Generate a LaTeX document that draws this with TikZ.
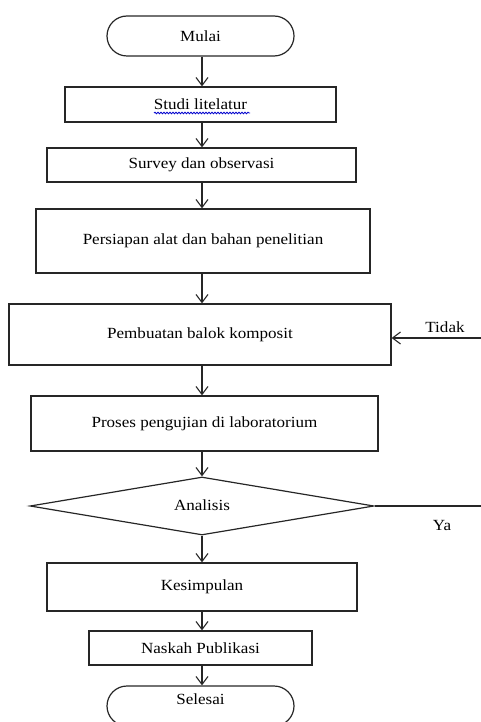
\documentclass[tikz,border=0pt]{standalone}
\usepackage{fontspec}
\setmainfont{Liberation Serif}[FakeStretch=1.1]
\usetikzlibrary{arrows.meta,shapes.geometric,decorations.pathmorphing}
\begin{document}
\begin{tikzpicture}[x=1pt,y=-1pt,
  every node/.style={font=\fontsize{15.5}{18}\selectfont, inner sep=0pt, line width=1.2pt, draw=black!85},
  box/.style={rectangle},
  term/.style={rectangle, rounded corners=20pt},
  dec/.style={diamond, aspect=6},
  lbl/.style={draw=none},
  arr/.style={line width=1.1pt, draw=black!85, -{Straight Barb[length=8pt,width=12pt,line width=1.1pt]}},
  plain/.style={line width=1.1pt, draw=black!85}]
\useasboundingbox (0,0) rectangle (481,722);
\clip (0,0) rectangle (481,722);
\coordinate (spine) at (202,0);
\node[term, minimum width=187pt, minimum height=40pt] (mulai) at (200.5,36) {Mulai};
\node[box, minimum width=271pt, minimum height=35pt] (studi) at (200.5,104.5) {Studi  litelatur};
\node[box, minimum width=309pt, minimum height=34pt] (survey) at (201.5,165) {Survey dan observasi};
\node[box, minimum width=334pt, minimum height=64pt] (persiapan) at (203,241) {Persiapan alat dan bahan penelitian};
\node[box, minimum width=382pt, minimum height=61pt] (pembuatan) at (200,334.5) {Pembuatan balok komposit};
\node[box, minimum width=347pt, minimum height=55pt] (proses) at (204.5,423.5) {Proses pengujian di laboratorium};
\node[dec, minimum width=344pt, minimum height=58pt] (analisis) at (202,506) {};
\node[lbl] (analisistext) at (202,505) {Analisis};
\node[box, minimum width=310pt, minimum height=48pt] (kesimpulan) at (202,587) {Kesimpulan};
\node[box, minimum width=223pt, minimum height=34pt] (naskah) at (200.5,648) {Naskah  Publikasi};
\node[term, minimum width=187pt, minimum height=40pt, text height=7pt, text depth=11pt] (selesai) at (200.5,706) {Selesai};
\node[lbl] (tidak) at (445,327) {Tidak};
\node[lbl] (ya) at (442,525) {Ya};
\coordinate (tidakstart) at (481,338);
\coordinate (yaend) at (481,506);
\draw[blue!80!black, line width=0.8pt, decorate, decoration={snake, segment length=3pt, amplitude=0.8pt}] (154,113) -- (250,113);
\draw[arr] (mulai.south -| spine) -- (studi.north -| spine);
\draw[arr] (studi.south -| spine) -- (survey.north -| spine);
\draw[arr] (survey.south -| spine) -- (persiapan.north -| spine);
\draw[arr] (persiapan.south -| spine) -- (pembuatan.north -| spine);
\draw[arr] (pembuatan.south -| spine) -- (proses.north -| spine);
\draw[arr] (proses.south -| spine) -- (analisis.north);
\draw[arr] (analisis.south) -- (kesimpulan.north -| spine);
\draw[arr] (kesimpulan.south -| spine) -- (naskah.north -| spine);
\draw[arr] (naskah.south -| spine) -- (selesai.north -| spine);
\draw[arr] (tidakstart) -- (pembuatan.east |- tidakstart);
\draw[plain] (analisis.east) -- (yaend);
\end{tikzpicture}
\end{document}
